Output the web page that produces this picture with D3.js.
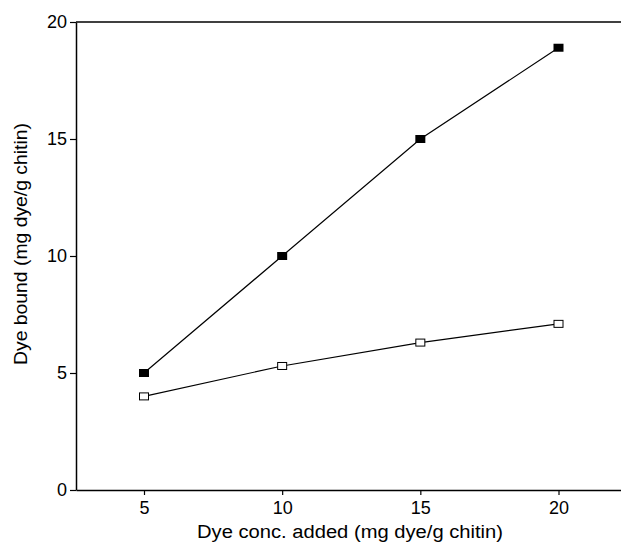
<!DOCTYPE html>
<html><head><meta charset="utf-8">
<script src="https://cdn.jsdelivr.net/npm/d3@7"></script>
<style>body{margin:0;background:#fff}svg{display:block}</style>
</head><body>
<svg id="c" width="621" height="543"></svg>
<script>
const xValues = [5, 10, 15, 20];
const filledSeries = [5.0, 10.0, 15.0, 18.9];
const openSeries = [4.0, 5.3, 6.3, 7.1];
const xTicks = [5, 10, 15, 20];
const yTicks = [0, 5, 10, 15, 20];
const xLabel = "Dye conc. added (mg dye/g chitin)";
const yLabel = "Dye bound (mg dye/g chitin)";

const svg = d3.select("#c");
const L = 76, R = 621, T = 22, B = 490;
const x = d3.scaleLinear().domain([5, 20]).range([144, 558.5]);
x.domain([x.invert(L), x.invert(R)]).range([L, R]);
const y = d3.scaleLinear().domain([0, 20]).range([B, T]);
const font = "Liberation Sans, Arial, Helvetica, sans-serif";

// top border
svg.append("line").attr("x1", L).attr("x2", R).attr("y1", T).attr("y2", T)
  .attr("stroke", "#000").attr("stroke-width", 1.5);

const gx = svg.append("g").attr("transform", `translate(0,${B})`)
  .call(d3.axisBottom(x).tickValues(xTicks).tickSize(5).tickPadding(6).tickSizeOuter(0));
const gy = svg.append("g").attr("transform", `translate(${L},0)`)
  .call(d3.axisLeft(y).tickValues(yTicks).tickSize(6).tickPadding(3).tickSizeOuter(0));
[gx, gy].forEach(g => {
  g.select(".domain").attr("stroke-width", 1.5);
  g.selectAll(".tick line").attr("stroke-width", 1.2);
  g.selectAll("text").attr("font-size", 18).attr("font-family", font).attr("fill", "#000");
});

const line = d3.line().x((d, i) => x(xValues[i])).y(d => y(d));
[filledSeries, openSeries].forEach(s => {
  svg.append("path").datum(s).attr("d", line).attr("fill", "none")
    .attr("stroke", "#000").attr("stroke-width", 1.2);
});
const w = 10, h = 8;
svg.selectAll(".f").data(filledSeries).enter().append("rect")
  .attr("x", (d, i) => x(xValues[i]) - w / 2).attr("y", d => y(d) - h / 2)
  .attr("width", w).attr("height", h).attr("fill", "#000");
svg.selectAll(".o").data(openSeries).enter().append("rect")
  .attr("x", (d, i) => x(xValues[i]) - w / 2 + 0.5).attr("y", d => y(d) - h / 2 + 0.5)
  .attr("width", w - 1).attr("height", h - 1).attr("fill", "#fff").attr("stroke", "#000").attr("stroke-width", 1);

svg.append("text").attr("x", 350).attr("y", 538).attr("text-anchor", "middle")
  .attr("font-size", 18).attr("font-family", font)
  .attr("textLength", 306).attr("lengthAdjust", "spacingAndGlyphs").text(xLabel);
svg.append("text").attr("transform", "translate(27,244) rotate(-90)").attr("text-anchor", "middle")
  .attr("font-size", 18).attr("font-family", font)
  .attr("textLength", 242).attr("lengthAdjust", "spacingAndGlyphs").text(yLabel);
</script>
</body></html>
